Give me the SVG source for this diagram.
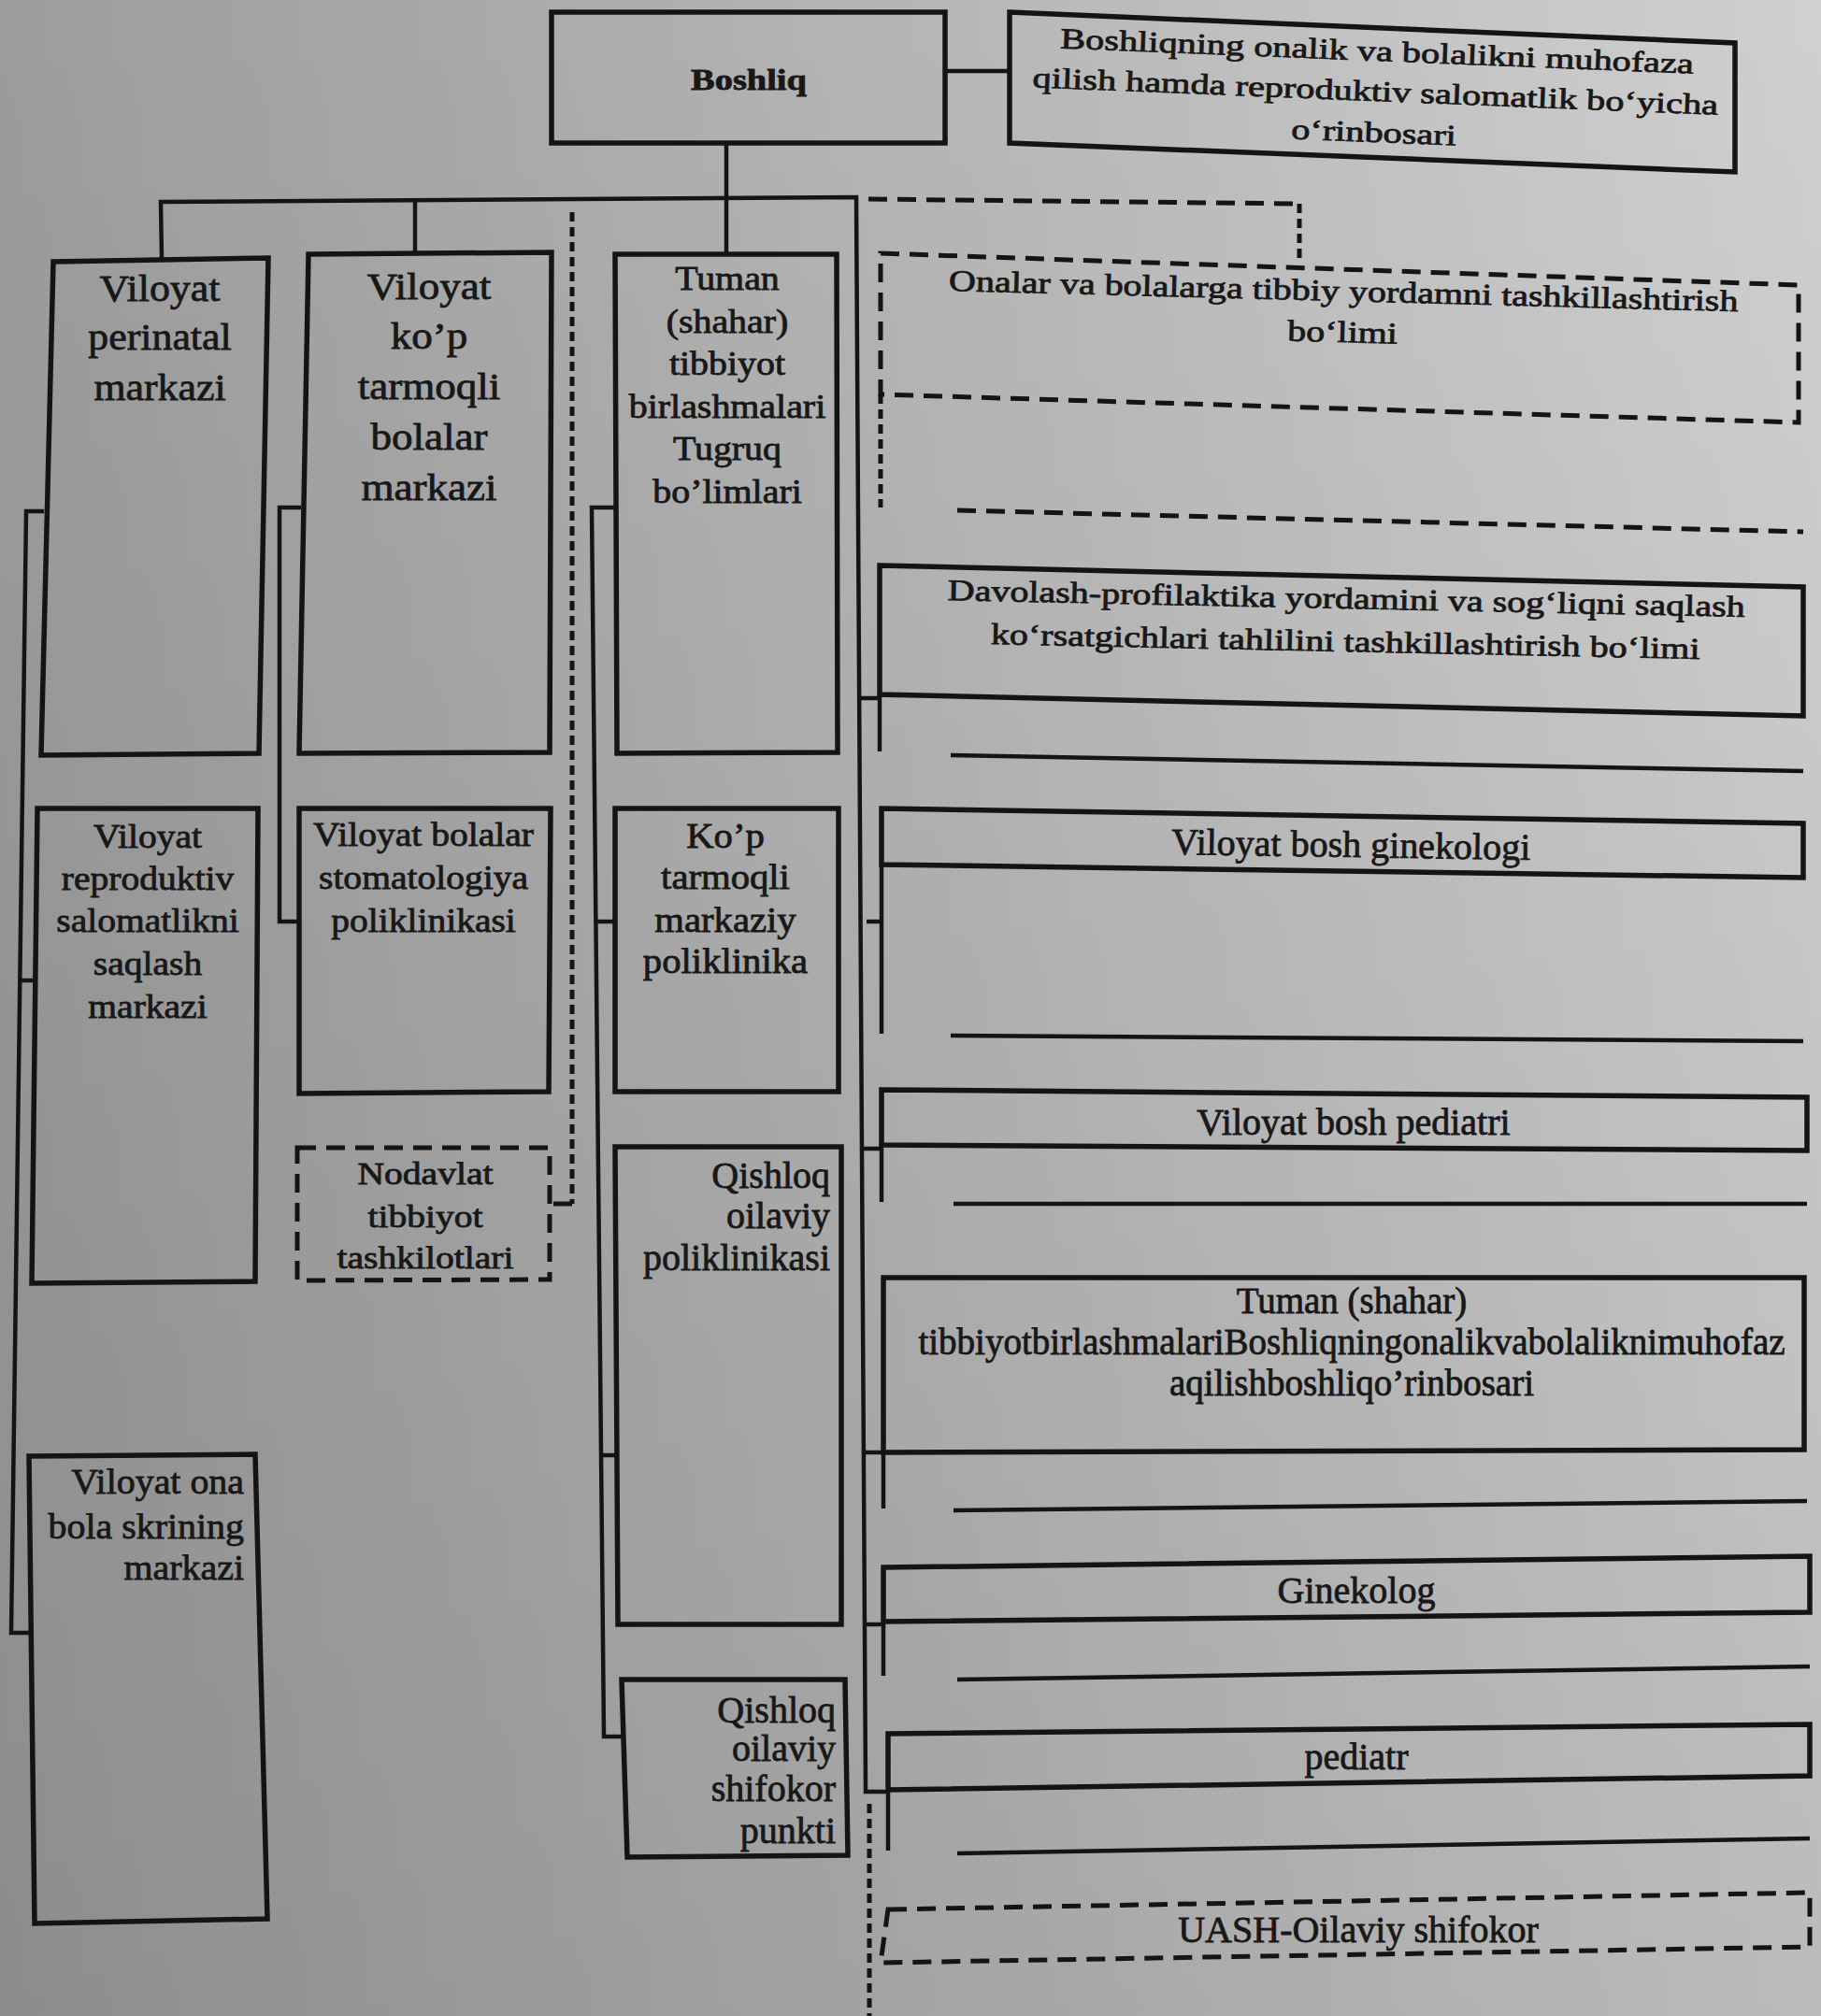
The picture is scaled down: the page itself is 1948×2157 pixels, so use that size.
<svg xmlns="http://www.w3.org/2000/svg" width="1948" height="2157" viewBox="0 0 1948 2157">
<defs>
<linearGradient id="bg" x1="0" y1="0" x2="1" y2="0">
<stop offset="0" stop-color="#9c9c9c"/>
<stop offset="0.45" stop-color="#b3b3b3"/>
<stop offset="1" stop-color="#d0d0d0"/>
</linearGradient>
<linearGradient id="shade" x1="0" y1="0" x2="0" y2="1">
<stop offset="0" stop-color="#000" stop-opacity="0"/>
<stop offset="1" stop-color="#000" stop-opacity="0.1"/>
</linearGradient>
<style>
.box{fill:none;stroke:#141414;stroke-width:5.5;stroke-linejoin:miter}
.dbox{fill:none;stroke:#141414;stroke-width:5;stroke-dasharray:20 11}
.ln{fill:none;stroke:#141414;stroke-width:4.5}
.dh{fill:none;stroke:#141414;stroke-width:5;stroke-dasharray:20 11}
.dv{fill:none;stroke:#141414;stroke-width:5;stroke-dasharray:10 6}
.t{font-family:"Liberation Serif","Times New Roman",serif;fill:#181818;stroke:#181818;stroke-width:0.8}
</style>
</defs>
<rect x="0" y="0" width="1948" height="2157" fill="url(#bg)"/>
<rect x="0" y="0" width="1948" height="2157" fill="url(#shade)"/>

<g id="connectors">
<path class="ln" d="M1011,76 H1080"/>
<path class="ln" d="M777,153 V272"/>
<path class="ln" d="M173,277 L172,216 L916,211 L926,1917 L950,1917"/>
<path class="ln" d="M444,214 V272"/>
<path class="ln" d="M917,747 H941"/>
<path class="ln" d="M927,986 H943"/>
<path class="ln" d="M923,1229 H943"/>
<path class="ln" d="M924,1554 H945"/>
<path class="ln" d="M925,1738 H945"/>
<path class="ln" d="M941,743 V804"/>
<path class="ln" d="M943,925 V1106"/>
<path class="ln" d="M943,1225 V1286"/>
<path class="ln" d="M945,1554 V1614"/>
<path class="ln" d="M945,1735 V1793"/>
<path class="ln" d="M950,1915 V1980"/>
<path class="ln" d="M1017,808 L1929,825"/>
<path class="ln" d="M1017,1108 L1929,1114"/>
<path class="ln" d="M1020,1288 L1933,1288"/>
<path class="ln" d="M1020,1616 L1933,1606"/>
<path class="ln" d="M1024,1797 L1936,1783"/>
<path class="ln" d="M1024,1983 L1936,1967"/>
<path class="ln" d="M47,547 H28 L12,1747 H33"/>
<path class="ln" d="M21,1049 H36"/>
<path class="ln" d="M322,543 H299 V986 H320"/>
<path class="ln" d="M658,543 H633 L646,1858 H668"/>
<path class="ln" d="M638,986 H658"/>
<path class="ln" d="M642,1557 H660"/>
<path class="dv" d="M612,227 V1288"/>
<path class="dh" d="M612,1288 H590"/>
<path class="dh" d="M929,213 L1390,218"/>
<path class="dv" d="M1390,218 V277"/>
<path class="dv" d="M942,422 V543"/>
<path class="dh" d="M1024,546 L1929,569"/>
<path class="dv" d="M930,1930 V2157"/>
</g>

<g id="n-boshliq">
<polygon class="box" points="590,13 1011,13 1011,153 590,153"/>
<text class="t" font-size="32" font-weight="bold" text-anchor="middle" transform="translate(801,96) scale(1.2,1)">Boshliq</text>
</g>

<g id="n-orinbosar">
<polygon class="box" points="1080,13 1856,46 1856,184 1080,153"/>
<text class="t" font-size="31" text-anchor="middle" transform="translate(1471,108) rotate(2.3) scale(1.3,1)"><tspan x="0" y="-43">Boshliqning onalik va bolalikni muhofaza</tspan><tspan x="0" y="0">qilish hamda reproduktiv salomatlik bo‘yicha</tspan><tspan x="0" y="44">o‘rinbosari</tspan></text>
</g>

<g id="n-perinatal">
<polygon class="box" points="57,280 287,276 277,806 44,808"/>
<text class="t" font-size="41" text-anchor="middle" transform="translate(171,0) scale(1.07,1)"><tspan x="0" y="322">Viloyat</tspan><tspan x="0" y="374">perinatal</tspan><tspan x="0" y="428">markazi</tspan></text>
</g>

<g id="n-kop-tarmoqli-bolalar">
<polygon class="box" points="330,272 590,270 588,805 320,806"/>
<text class="t" font-size="41" text-anchor="middle" transform="translate(459,0) scale(1.1,1)"><tspan x="0" y="320">Viloyat</tspan><tspan x="0" y="373">ko’p</tspan><tspan x="0" y="427">tarmoqli</tspan><tspan x="0" y="481">bolalar</tspan><tspan x="0" y="535">markazi</tspan></text>
</g>

<g id="n-tuman-tugruq">
<polygon class="box" points="658,272 895,272 896,805 660,806"/>
<text class="t" font-size="35" text-anchor="middle" transform="translate(778,0) scale(1.14,1)"><tspan x="0" y="310">Tuman</tspan><tspan x="0" y="356">(shahar)</tspan><tspan x="0" y="401">tibbiyot</tspan><tspan x="0" y="447">birlashmalari</tspan><tspan x="0" y="492">Tugruq</tspan><tspan x="0" y="538">bo’limlari</tspan></text>
</g>

<g id="n-reproduktiv">
<polygon class="box" points="40,865 276,865 273,1371 34,1373"/>
<text class="t" font-size="35" text-anchor="middle" transform="translate(158,0) scale(1.13,1)"><tspan x="0" y="907">Viloyat</tspan><tspan x="0" y="952">reproduktiv</tspan><tspan x="0" y="997">salomatlikni</tspan><tspan x="0" y="1043">saqlash</tspan><tspan x="0" y="1089">markazi</tspan></text>
</g>

<g id="n-stomatologiya">
<polygon class="box" points="320,865 589,865 587,1168 320,1170"/>
<text class="t" font-size="35" text-anchor="middle" transform="translate(453,0) scale(1.13,1)"><tspan x="0" y="905">Viloyat bolalar</tspan><tspan x="0" y="951">stomatologiya</tspan><tspan x="0" y="997">poliklinikasi</tspan></text>
</g>

<g id="n-kop-tarmoqli-poliklinika">
<polygon class="box" points="658,865 897,865 897,1168 658,1168"/>
<text class="t" font-size="37" text-anchor="middle" transform="translate(776,0) scale(1.1,1)"><tspan x="0" y="907">Ko’p</tspan><tspan x="0" y="951">tarmoqli</tspan><tspan x="0" y="997">markaziy</tspan><tspan x="0" y="1041">poliklinika</tspan></text>
</g>

<g id="n-nodavlat">
<polygon class="dbox" points="318,1228 588,1228 588,1369 318,1370"/>
<text class="t" font-size="33" text-anchor="middle" transform="translate(455,0) scale(1.2,1)"><tspan x="0" y="1267">Nodavlat</tspan><tspan x="0" y="1313">tibbiyot</tspan><tspan x="0" y="1357">tashkilotlari</tspan></text>
</g>

<g id="n-qishloq-poliklinika">
<polygon class="box" points="658,1227 900,1227 900,1738 661,1738"/>
<text class="t" font-size="40" text-anchor="end" transform="translate(888,0)"><tspan x="0" y="1271">Qishloq</tspan><tspan x="0" y="1314">oilaviy</tspan><tspan x="0" y="1359">poliklinikasi</tspan></text>
</g>

<g id="n-skrining">
<polygon class="box" points="31,1558 273,1556 286,2053 37,2058"/>
<text class="t" font-size="38" text-anchor="end" transform="translate(261,0) scale(1.05,1)"><tspan x="0" y="1598">Viloyat ona</tspan><tspan x="0" y="1646">bola skrining</tspan><tspan x="0" y="1690">markazi</tspan></text>
</g>

<g id="n-qishloq-punkt">
<polygon class="box" points="665,1797 904,1797 907,1985 671,1987"/>
<text class="t" font-size="40" text-anchor="end" transform="translate(894,0)"><tspan x="0" y="1843">Qishloq</tspan><tspan x="0" y="1884">oilaviy</tspan><tspan x="0" y="1927">shifokor</tspan><tspan x="0" y="1972">punkti</tspan></text>
</g>

<g id="n-onalar-bolim">
<polygon class="dbox" points="942,271 1924,305 1924,452 942,422"/>
<text class="t" font-size="32" text-anchor="middle" transform="translate(1437,322) rotate(1.5) scale(1.25,1)"><tspan x="0" y="0">Onalar va bolalarga tibbiy yordamni tashkillashtirish</tspan><tspan x="0" y="44">bo‘limi</tspan></text>
</g>

<g id="n-davolash">
<polygon class="box" points="941,605 1929,628 1929,766 941,743"/>
<text class="t" font-size="32" text-anchor="middle" transform="translate(1440,651) rotate(1.2) scale(1.25,1)"><tspan x="0" y="0">Davolash-profilaktika yordamini va sog‘liqni saqlash</tspan><tspan x="0" y="46">ko‘rsatgichlari tahlilini tashkillashtirish bo‘limi</tspan></text>
</g>

<g id="n-bosh-ginekolog">
<polygon class="box" points="943,865 1929,881 1929,939 943,925"/>
<text class="t" font-size="40" text-anchor="middle" transform="translate(1445,917) rotate(0.9)">Viloyat bosh ginekologi</text>
</g>

<g id="n-bosh-pediatr">
<polygon class="box" points="943,1166 1933,1174 1933,1231 943,1225"/>
<text class="t" font-size="40" text-anchor="middle" transform="translate(1448,1214)">Viloyat bosh pediatri</text>
</g>

<g id="n-tuman-orinbosar">
<polygon class="box" points="945,1367 1930,1367 1930,1551 945,1554"/>
<text class="t" font-size="39" text-anchor="middle" transform="translate(1446,0)"><tspan x="0" y="1405">Tuman (shahar)</tspan><tspan x="0" y="1449">tibbiyotbirlashmalariBoshliqningonalikvabolaliknimuhofaz</tspan><tspan x="0" y="1493">aqilishboshliqo’rinbosari</tspan></text>
</g>

<g id="n-ginekolog">
<polygon class="box" points="945,1677 1936,1665 1936,1725 945,1735"/>
<text class="t" font-size="40" text-anchor="middle" transform="translate(1451,1715)">Ginekolog</text>
</g>

<g id="n-pediatr">
<polygon class="box" points="950,1855 1936,1845 1936,1900 950,1915"/>
<text class="t" font-size="40" text-anchor="middle" transform="translate(1451,1893)">pediatr</text>
</g>

<g id="n-uash">
<polygon class="dbox" points="950,2043 1936,2025 1936,2083 942,2100"/>
<text class="t" font-size="40" text-anchor="middle" transform="translate(1453,2078)">UASH-Oilaviy shifokor</text>
</g>
</svg>
